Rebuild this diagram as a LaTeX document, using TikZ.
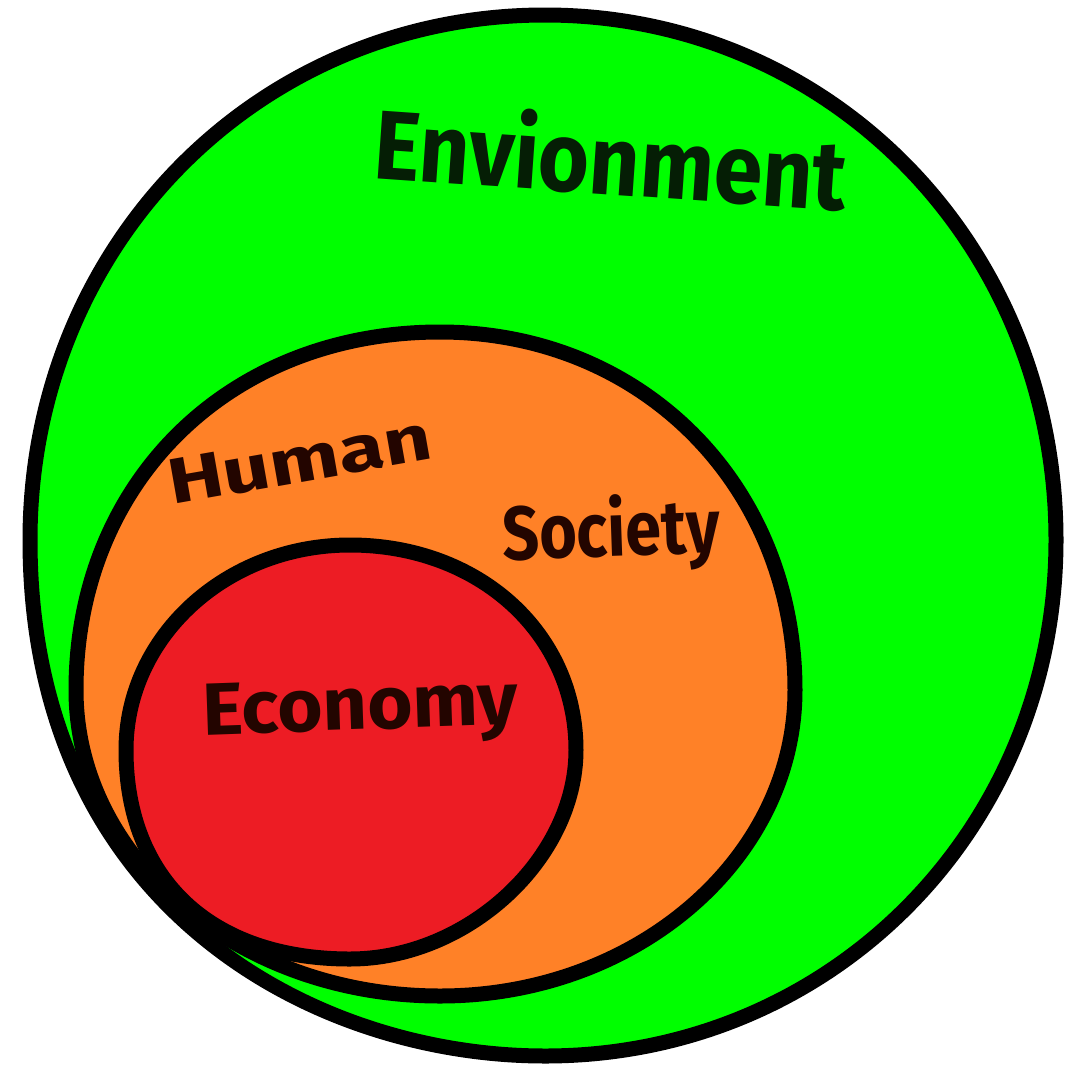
\documentclass[tikz,border=0pt]{standalone}
\usepackage{fontspec}
\setmainfont{Fira Sans}
\definecolor{envgreen}{RGB}{0,255,0}
\definecolor{socorange}{RGB}{255,129,39}
\definecolor{ecored}{RGB}{237,28,36}
\definecolor{envink}{RGB}{5,30,5}
\definecolor{socink}{RGB}{35,5,0}
% egg-shaped closed curve: centre x, centre y, left, right, top, bottom radii;
% roundness of the quadrants in \kTR \kTL \kBLa \kBLb \kBR
\newcommand{\eggpath}[6]{({#1+#4},#2)
 .. controls ({#1+#4},{#2-\kTR*#5}) and ({#1+\kTR*#4},{#2-#5}) .. ({#1},{#2-#5})
 .. controls ({#1-\kTL*#3},{#2-#5}) and ({#1-#3},{#2-\kTL*#5}) .. ({#1-#3},#2)
 .. controls ({#1-#3},{#2+\kBLa*#6}) and ({#1-\kBLb*#3},{#2+#6}) .. ({#1},{#2+#6})
 .. controls ({#1+\kBR*#4},{#2+#6}) and ({#1+#4},{#2+\kBR*#6}) .. ({#1+#4},#2) -- cycle}
\begin{document}
\begin{tikzpicture}[x=1pt,y=-1pt,
  ring/.style={draw=black,line width=15pt,line join=round},
  hand/.style={inner sep=0pt,anchor=base west,font=\bfseries}]
\useasboundingbox (0,0) rectangle (1069,1069);
\fill[white] (0,0) rectangle (1069,1069);
% Environment
\def\kTR{0.56}\def\kTL{0.56}\def\kBLa{0.71}\def\kBLb{0.45}\def\kBR{0.56}
\draw[ring,fill=envgreen] \eggpath{545}{540}{515}{511}{525}{516};
% Human society
\def\kTR{0.57}\def\kTL{0.58}\def\kBLa{0.5523}\def\kBLb{0.5523}\def\kBR{0.5523}
\draw[ring,fill=socorange] \eggpath{440}{690}{364}{355}{358}{306};
% Economy
\def\kTR{0.57}\def\kTL{0.5523}\def\kBLa{0.62}\def\kBLb{0.62}\def\kBR{0.52}
\draw[ring,fill=ecored] \eggpath{350}{750}{224}{226}{205}{209};
% labels
\node[hand,text=envink,rotate=-4] (env) at (372,178)
  {\fontsize{98}{98}\selectfont\scalebox{0.894}[1]{Envionment}};
\node[hand,text=socink,rotate=10] (hum) at (172,505)
  {\fontsize{64}{64}\selectfont\scalebox{1.3}[1]{Human}};
\node[hand,text=socink,rotate=2] (soc) at (503,560)
  {\fontsize{76}{76}\selectfont\scalebox{0.85}[1]{Society}};
\node[hand,text=socink,rotate=2] (eco) at (203,735)
  {\fontsize{74}{74}\selectfont\scalebox{1.05}[1]{Economy}};
\end{tikzpicture}
\end{document}
